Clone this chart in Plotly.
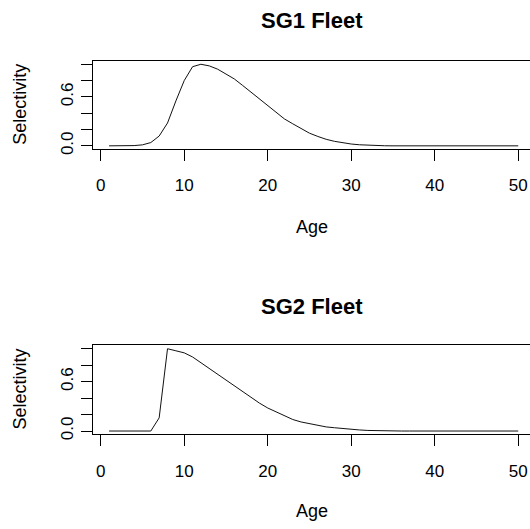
import plotly.graph_objects as go

ages = list(range(1, 51))
sg1_sel = [0, 0, 0, 0.003, 0.012, 0.04, 0.12, 0.28, 0.55, 0.80,
           0.97, 1.0, 0.98, 0.94, 0.88, 0.82, 0.74, 0.66, 0.57, 0.49,
           0.41, 0.33, 0.27, 0.21, 0.155, 0.115, 0.08, 0.055, 0.035, 0.022,
           0.013, 0.007, 0.003, 0.001, 0, 0, 0, 0, 0, 0,
           0, 0, 0, 0, 0, 0, 0, 0, 0, 0]
sg2_sel = [0, 0, 0, 0, 0, 0, 0.16, 1.0, 0.975, 0.95,
           0.90, 0.83, 0.76, 0.69, 0.62, 0.55, 0.47, 0.40, 0.34, 0.28,
           0.23, 0.18, 0.14, 0.11, 0.09, 0.07, 0.05, 0.04, 0.028, 0.02,
           0.013, 0.007, 0.003, 0.001, 0, 0, 0, 0, 0, 0,
           0, 0, 0, 0, 0, 0, 0, 0, 0, 0]
titles = ["SG1 Fleet", "SG2 Fleet"]
x_ticks = [0, 10, 20, 30, 40, 50]
y_ticks = [0, 0.2, 0.4, 0.6, 0.8, 1.0]
y_ticktext = ["0.0", "", "", "0.6", "", ""]

W, H = 530, 529
FONT = "Liberation Sans, Arial, sans-serif"

def py(p):
    return 1 - p / H

fig = go.Figure()
fig.add_trace(go.Scatter(x=ages, y=sg1_sel, mode="lines",
                         line=dict(color="#111", width=1), xaxis="x", yaxis="y",
                         showlegend=False, hoverinfo="skip"))
fig.add_trace(go.Scatter(x=ages, y=sg2_sel, mode="lines",
                         line=dict(color="#111", width=1), xaxis="x2", yaxis="y2",
                         showlegend=False, hoverinfo="skip"))

xdom = [92.7 / W, 1.0]
xrange = [-0.96, -0.96 + (W - 92.7) / 8.35]
common_x = dict(range=xrange, domain=xdom, tickvals=x_ticks, ticks="outside",
                ticklen=11, tickcolor="#000", tickwidth=1, showline=True,
                mirror=True, linecolor="#000", linewidth=1, showgrid=False,
                zeroline=False, tickfont=dict(family=FONT, size=17, color="#000"),
                ticklabelstandoff=10, fixedrange=True)
common_y = dict(range=[-0.04, 1.04], tickvals=y_ticks, ticktext=y_ticktext,
                ticks="outside", ticklen=11, tickcolor="#000", tickwidth=1,
                showline=True, mirror=False, linecolor="#000", linewidth=1,
                showgrid=False, zeroline=False, tickangle=-90,
                tickfont=dict(family=FONT, size=17, color="#000"),
                ticklabelstandoff=1, fixedrange=True)

fig.update_layout(
    width=W, height=H, margin=dict(l=0, r=0, t=0, b=0),
    paper_bgcolor="white", plot_bgcolor="white",
    xaxis=dict(anchor="y", **common_x),
    yaxis=dict(anchor="x", domain=[py(150.8), py(61.7)], **common_y),
    xaxis2=dict(anchor="y2", **common_x),
    yaxis2=dict(anchor="x2", domain=[py(439.3), py(349.4)], **common_y),
)

cx = 312 / W
for title, ty in zip(titles, [21, 310]):
    fig.add_annotation(text="<b>%s</b>" % title, x=cx, y=py(ty), xref="paper", yref="paper",
                       showarrow=False, xanchor="center", yanchor="middle",
                       font=dict(family=FONT, size=22, color="#000"))
for ay in [230, 517]:
    fig.add_annotation(text="Age", x=cx, y=py(ay), xref="paper", yref="paper",
                       showarrow=False, xanchor="center", yanchor="middle",
                       font=dict(family=FONT, size=18, color="#000"))
for ay in [106, 394]:
    fig.add_annotation(text="Selectivity", x=20 / W, y=py(ay), xref="paper", yref="paper",
                       showarrow=False, xanchor="center", yanchor="middle", textangle=-90,
                       font=dict(family=FONT, size=18, color="#000"))

fig.write_html("out.html", config={"displayModeBar": False},
               post_script="document.body.style.margin='0';document.body.style.overflow='hidden';")
